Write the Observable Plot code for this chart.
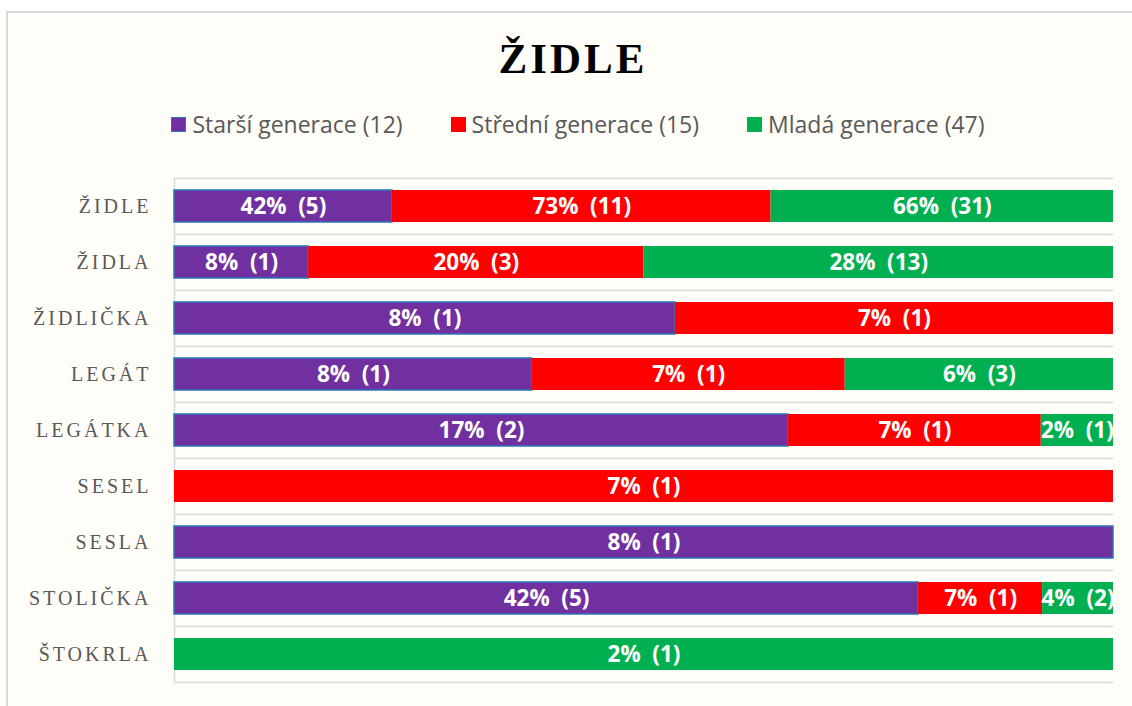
<!DOCTYPE html>
<html>
<head>
<meta charset="utf-8">
<script src="https://cdn.jsdelivr.net/npm/d3@7"></script>
<script src="https://cdn.jsdelivr.net/npm/@observablehq/plot@0.6"></script>
<style>
  html, body { margin: 0; padding: 0; background: #ffffff; width: 1132px; height: 706px; overflow: hidden; }
  #frame { position: absolute; left: 6px; top: 11px; width: 1140px; height: 710px; border: 2px solid #D9D9D9; background: #FFFDF7; box-sizing: border-box; }
  #title { position: absolute; left: 0; top: 37px; width: 1146px; text-align: center; font-family: "Liberation Serif", serif; font-weight: bold; font-size: 43px; line-height: 43px; letter-spacing: 3px; color: #000; }
  #legend { position: absolute; left: 0; top: 113px; width: 1156px; display: flex; justify-content: center; gap: 48px; font-family: "Open Sans", sans-serif; font-size: 23px; line-height: 23px; color: #595959; }
  #legend .item { display: flex; align-items: center; gap: 6px; }
  #legend .sw { width: 15px; height: 15px; box-sizing: border-box; }
  #chart { position: absolute; left: 0; top: 160px; }
  #chart svg text { white-space: pre; }
</style>
</head>
<body>
<div id="frame"></div>
<div id="title">ŽIDLE</div>
<div id="legend"></div>
<div id="chart"></div>
<script>
const categories = ["ŽIDLE","ŽIDLA","ŽIDLIČKA","LEGÁT","LEGÁTKA","SESEL","SESLA","STOLIČKA","ŠTOKRLA"];
const seriesNames = ["Starší generace (12)", "Střední generace (15)", "Mladá generace (47)"];
const seriesColors = ["#7030A0", "#FF0000", "#00B050"];
const seriesStrokes = ["#2E75B6", "none", "none"];

// percentages per word, for each generation (null = not named)
const starsiPct   = [42, 8, 8, 8, 17, null, 8, 42, null];
const stredniPct  = [73, 20, 7, 7, 7, 7, null, 7, null];
const mladaPct    = [66, 28, null, 6, 2, null, null, 4, 2];
// respondent counts
const starsiN     = [5, 1, 1, 1, 2, null, 1, 5, null];
const stredniN    = [11, 3, 1, 1, 1, 1, null, 1, null];
const mladaN      = [31, 13, null, 3, 1, null, null, 2, 1];

const pcts = [starsiPct, stredniPct, mladaPct];
const counts = [starsiN, stredniN, mladaN];

const data = [];
categories.forEach((c, i) => {
  seriesNames.forEach((s, j) => {
    const v = pcts[j][i];
    if (v != null) data.push({cat: c, series: s, value: v, n: counts[j][i], label: `${v}%  (${counts[j][i]})`});
  });
});

// legend
const legend = document.getElementById("legend");
seriesNames.forEach((s, j) => {
  const it = document.createElement("div");
  it.className = "item";
  const sw = document.createElement("div");
  sw.className = "sw";
  sw.style.background = seriesColors[j];
  if (seriesStrokes[j] !== "none") sw.style.border = `1.5px solid ${seriesStrokes[j]}`;
  const t = document.createElement("span");
  t.textContent = s;
  it.appendChild(sw); it.appendChild(t);
  legend.appendChild(it);
});

const W = 1132, H = 540, mT = 18, mB = 18;
const step = (H - mT - mB) / categories.length;

const chart = Plot.plot({
  width: W,
  height: H,
  marginLeft: 174,
  marginRight: 19,
  marginTop: mT,
  marginBottom: mB,
  style: {background: "transparent", fontFamily: "Liberation Serif, serif", fontSize: "20px", color: "#595959"},
  x: {axis: null},
  y: {domain: categories, paddingInner: 0.43, paddingOuter: 0.215, label: null},
  color: {domain: seriesNames, range: seriesColors},
  marks: [
    Plot.ruleY(categories, {y: d => d, dy: -step / 2, stroke: "#D9D9D9", strokeWidth: 1.5}),
    Plot.ruleY([categories[categories.length - 1]], {y: d => d, dy: step / 2, stroke: "#D9D9D9", strokeWidth: 1.5}),
    Plot.ruleX([0], {stroke: "#D9D9D9", strokeWidth: 1.5}),
    Plot.barX(data, Plot.stackX({offset: "normalize", order: null, x: "value", y: "cat", z: "series", fill: "series",
      stroke: d => d.series === seriesNames[0] ? seriesStrokes[0] : "none", strokeWidth: 1.5})),
    Plot.text(data, Plot.stackX({offset: "normalize", order: null, x: "value", y: "cat", z: "series", text: "label",
      fill: "white", fontFamily: "Open Sans, sans-serif", fontWeight: "bold", fontSize: 22.5})),
    Plot.axisY({tickSize: 0, tickPadding: 23, fill: "#595959", fontSize: 20, fontFamily: "Liberation Serif, serif"})
  ]
});

d3.select(chart).selectAll('g[aria-label="y-axis tick label"] text').style("letter-spacing", "3px");
document.getElementById("chart").appendChild(chart);
</script>
</body>
</html>
